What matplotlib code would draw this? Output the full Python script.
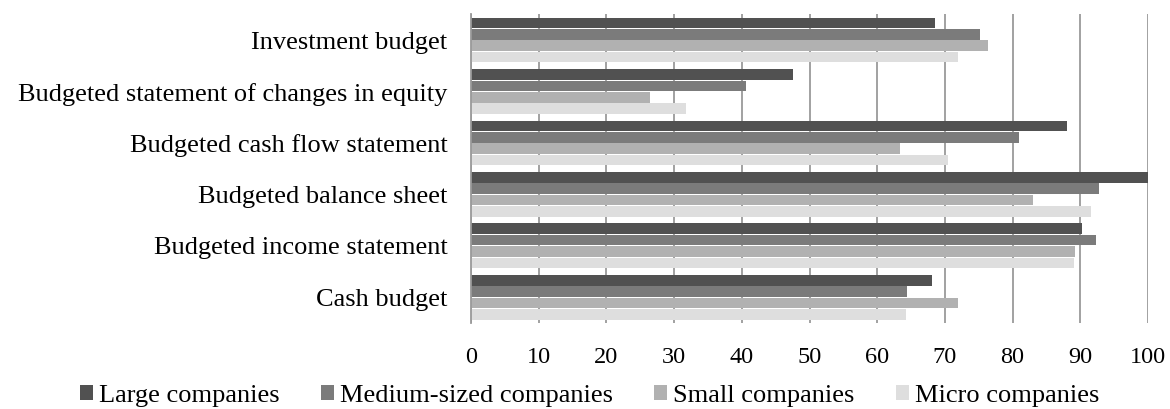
import numpy as np
import matplotlib.pyplot as plt

plt.rcParams['font.family'] = ['Liberation Serif', 'DejaVu Serif']

categories = ['Cash budget', 'Budgeted income statement', 'Budgeted balance sheet',
              'Budgeted cash flow statement', 'Budgeted statement of changes in equity',
              'Investment budget']
series = ['Large companies', 'Medium-sized companies', 'Small companies', 'Micro companies']
large = [68.1, 90.2, 100.0, 88.0, 47.5, 68.6]
medium = [64.4, 92.3, 92.8, 81.0, 40.6, 75.2]
small = [72.0, 89.2, 83.0, 63.4, 26.5, 76.3]
micro = [64.2, 89.1, 91.6, 70.4, 31.8, 71.9]
colors = ['#515151', '#7b7b7b', '#b1b1b1', '#dedede']

fig = plt.figure(figsize=(11.7, 4.09), dpi=100)
ax = fig.add_axes([0.4026, 0.21, 0.5786, 0.755])

y = np.arange(len(categories))
step = 0.222
h = 0.205
for k, (vals, name, c) in enumerate(zip([large, medium, small, micro], series, colors)):
    ax.barh(y + (1.5 - k) * step, vals, height=h, color=c, label=name, zorder=2)

ax.set_xlim(0, 100)
ax.set_ylim(-0.5, 5.5)
ax.set_xticks(np.arange(0, 101, 10))
ax.set_yticks(y)
ax.set_yticklabels(categories)
ax.tick_params(axis='y', length=0, pad=17, labelsize=19)
ax.tick_params(axis='x', length=0, pad=17, labelsize=17.5)
ax.grid(axis='x', color='#9a9a9a', linewidth=1.3, zorder=1)
for s in ['top', 'right', 'bottom']:
    ax.spines[s].set_visible(False)
ax.spines['left'].set_color('#9a9a9a')
ax.spines['left'].set_linewidth(1.3)

fig.legend(loc='center', bbox_to_anchor=(0.504, 0.032), ncol=4, frameon=False,
           fontsize=19, handlelength=0.5, handleheight=0.5, handletextpad=0.23,
           columnspacing=1.55)

fig.savefig('out.png', dpi=100)
